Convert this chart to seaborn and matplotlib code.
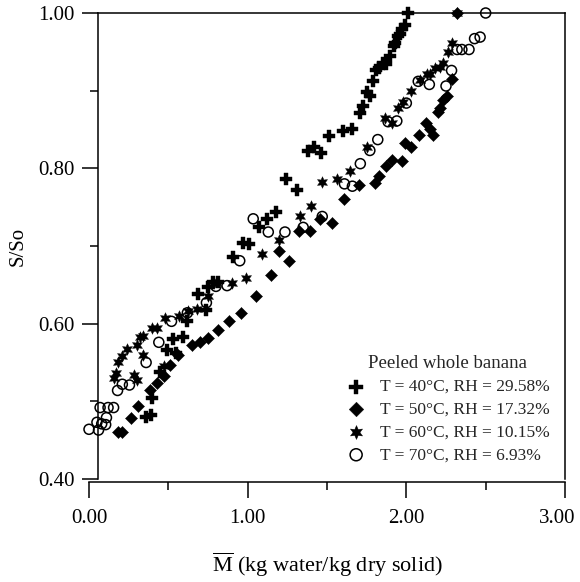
import numpy as np
import pandas as pd
import matplotlib
matplotlib.use("Agg")
import matplotlib.pyplot as plt
import matplotlib.transforms as mtransforms
import seaborn as sns

# ---- data ----
m40 = [2.01, 1.99, 1.97, 1.96, 1.95, 1.93, 1.92, 1.90, 1.87, 1.85, 1.83, 1.81, 1.79, 1.75, 1.77,
       1.73, 1.71, 1.66, 1.60, 1.51, 1.42, 1.38, 1.46, 1.24, 1.31, 1.18, 1.12, 1.07, 1.01, 0.97,
       0.91, 0.815, 0.78, 0.75, 0.69, 0.74, 0.62, 0.53, 0.59, 0.49, 0.55, 0.36, 0.39, 0.40, 0.45]
s40 = [1.000, 0.985, 0.979, 0.973, 0.970, 0.962, 0.957, 0.944, 0.934, 0.935, 0.929, 0.927, 0.912, 0.898, 0.893,
       0.880, 0.871, 0.850, 0.848, 0.841, 0.828, 0.822, 0.820, 0.786, 0.772, 0.744, 0.735, 0.724, 0.703, 0.704,
       0.686, 0.654, 0.654, 0.647, 0.638, 0.618, 0.603, 0.580, 0.583, 0.566, 0.562, 0.480, 0.482, 0.504, 0.538]

m50 = [2.32, 2.285, 2.255, 2.23, 2.21, 2.20, 2.125, 2.15, 2.17, 2.08, 1.99, 2.03, 1.97, 1.91, 1.87,
       1.83, 1.80, 1.70, 1.61, 1.53, 1.455, 1.39, 1.325, 1.26, 1.20, 1.15, 1.05, 0.96, 0.88, 0.815,
       0.75, 0.70, 0.65, 0.56, 0.51, 0.47, 0.43, 0.385, 0.31, 0.265, 0.185, 0.21]
s50 = [1.000, 0.915, 0.893, 0.888, 0.878, 0.873, 0.859, 0.850, 0.843, 0.843, 0.833, 0.828, 0.809, 0.811, 0.803,
       0.790, 0.781, 0.778, 0.760, 0.730, 0.735, 0.719, 0.719, 0.681, 0.694, 0.663, 0.635, 0.614, 0.603, 0.592,
       0.581, 0.577, 0.573, 0.560, 0.547, 0.532, 0.523, 0.515, 0.494, 0.478, 0.460, 0.460]

m60 = [2.32, 2.285, 2.265, 2.23, 2.21, 2.18, 2.15, 2.13, 2.085, 2.03, 1.98, 1.95, 1.91, 1.865, 1.75,
       1.645, 1.565, 1.47, 1.40, 1.33, 1.20, 1.09, 0.99, 0.90, 0.79, 0.75, 0.68, 0.625, 0.57, 0.48,
       0.43, 0.40, 0.34, 0.32, 0.30, 0.24, 0.205, 0.185, 0.17, 0.155, 0.34, 0.285, 0.30, 0.47]
s60 = [1.000, 0.962, 0.950, 0.935, 0.931, 0.929, 0.922, 0.921, 0.914, 0.899, 0.885, 0.878, 0.858, 0.865, 0.827,
       0.797, 0.786, 0.782, 0.752, 0.739, 0.708, 0.690, 0.659, 0.652, 0.652, 0.635, 0.619, 0.616, 0.610, 0.607,
       0.595, 0.594, 0.584, 0.583, 0.573, 0.568, 0.558, 0.550, 0.536, 0.530, 0.560, 0.534, 0.528, 0.545]

m70 = [2.50, 2.465, 2.43, 2.395, 2.35, 2.32, 2.285, 2.25, 2.145, 2.075, 2.00, 1.94, 1.885, 1.82, 1.77,
       1.71, 1.61, 1.66, 1.47, 1.35, 1.235, 1.13, 1.035, 0.95, 0.87, 0.80, 0.74, 0.62, 0.52, 0.44,
       0.36, 0.255, 0.21, 0.18, 0.155, 0.12, 0.07, 0.11, 0.08, 0.05, 0.06, 0.0, 0.105]
s70 = [1.000, 0.969, 0.967, 0.953, 0.953, 0.953, 0.926, 0.906, 0.908, 0.912, 0.884, 0.861, 0.860, 0.837, 0.823,
       0.806, 0.780, 0.777, 0.738, 0.724, 0.718, 0.718, 0.735, 0.681, 0.649, 0.648, 0.627, 0.614, 0.603, 0.576,
       0.550, 0.521, 0.522, 0.514, 0.492, 0.492, 0.492, 0.479, 0.471, 0.473, 0.463, 0.464, 0.470]

labels = ["T = 40°C, RH = 29.58%", "T = 50°C, RH = 17.32%",
          "T = 60°C, RH = 10.15%", "T = 70°C, RH = 6.93%"]
legend_title = "Peeled whole banana"
xticks = [0.0, 1.0, 2.0, 3.0]
yticks = [0.40, 0.60, 0.80, 1.00]

sns.set_theme(style="ticks")
plt.rcParams['font.family'] = ['Liberation Serif', 'DejaVu Serif']
plt.rcParams['mathtext.fontset'] = 'custom'
plt.rcParams['mathtext.rm'] = 'Liberation Serif'

fig = plt.figure(figsize=(5.8, 5.82), dpi=100)
ax = fig.add_axes([89/580, 1 - 479/582, 476/580, 466/582])

common = dict(ax=ax, clip_on=False, zorder=3)
sns.scatterplot(x=m40, y=s40, marker='P', s=65, color='black', edgecolor='black', linewidth=0.3,
                label=labels[0], **common)
sns.scatterplot(x=m50, y=s50, marker='D', s=38, color='black', edgecolor='black', linewidth=0.3,
                label=labels[1], **common)
sns.scatterplot(x=m60, y=s60, marker=(6, 1, 0), s=70, color='black', edgecolor='black', linewidth=0.3,
                label=labels[2], **common)
sns.scatterplot(x=m70, y=s70, marker='o', s=52, facecolors='none', edgecolor='black', linewidth=1.1,
                label=labels[3], **common)

ax.set_xlim(0, 3)
ax.set_ylim(0.40, 1.00)
ax.set_xticks(xticks)
ax.set_xticklabels([f"{v:.2f}" for v in xticks])
ax.set_yticks(yticks)
ax.set_yticklabels([f"{v:.2f}" for v in yticks])
ax.set_xticks([0.5, 1.5, 2.5], minor=True)
ax.set_yticks([0.50, 0.70, 0.90], minor=True)

for side in ['left', 'right', 'top', 'bottom']:
    ax.spines[side].set_visible(True)
    ax.spines[side].set_linewidth(1.1)
    ax.spines[side].set_color('black')
ax.spines['left'].set_position(('data', 0.055))
ax.spines['bottom'].set_position(('outward', 2))
ax.spines['top'].set_bounds(0.055, 3)

ax.tick_params(axis='both', which='major', length=11.5, width=1.1, color='black',
               labelsize=15, labelcolor='black', direction='out')
ax.tick_params(axis='both', which='minor', length=5.5, width=1.1, color='black', direction='out')
ax.tick_params(axis='x', which='major', pad=8)
ax.tick_params(axis='y', which='major', pad=5)

# shift the last x tick label a little left so it stays inside the figure
last = ax.get_xticklabels()[-1]
last.set_transform(last.get_transform() + mtransforms.ScaledTranslation(-8/100, 0, fig.dpi_scale_trans))

ax.set_xlabel(r"$\overline{\mathrm{M}}$ (kg water/kg dry solid)", fontsize=16, color='black', labelpad=16)
ax.set_ylabel("S/So", fontsize=15, color='black', labelpad=8)

leg = ax.legend(title=legend_title, loc='lower right', bbox_to_anchor=(558/580, 1 - 472/582),
                bbox_transform=fig.transFigure, frameon=False, fontsize=12.5, title_fontsize=13.5,
                labelspacing=0.38, handletextpad=0.75, handlelength=1.2, borderpad=0, markerscale=1.2)

fig.savefig("out.png", dpi=100)
